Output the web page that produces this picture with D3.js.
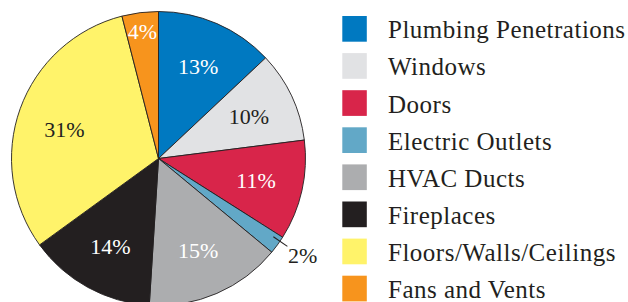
<!DOCTYPE html>
<html>
<head>
<meta charset="utf-8">
<script src="https://cdn.jsdelivr.net/npm/d3@7"></script>
<style>
  html, body { margin: 0; padding: 0; background: #fff; }
  svg { display: block; }
  svg text { font-family: "Liberation Serif", "Times New Roman", serif; }
</style>
</head>
<body>
<svg id="chart" width="628" height="302"></svg>
<script>
// Data
const categories = ["Plumbing Penetrations", "Windows", "Doors", "Electric Outlets",
                    "HVAC Ducts", "Fireplaces", "Floors/Walls/Ceilings", "Fans and Vents"];
const values = [13, 10, 11, 2, 15, 14, 31, 4];
const colors = ["#0079c1", "#e1e2e4", "#d8254a", "#62a8c7", "#acadaf", "#231f20", "#fff36a", "#f7941d"];
const labelColors = ["#ffffff", "#231f20", "#ffffff", "#231f20", "#ffffff", "#ffffff", "#231f20", "#ffffff"];

const svg = d3.select("#chart");
const cx = 158.5, cy = 158.5, R = 147;

const data = categories.map((c, i) => ({ name: c, value: values[i], color: colors[i], lc: labelColors[i] }));

const pie = d3.pie().sort(null).value(d => d.value).startAngle(0).endAngle(2 * Math.PI);
const arcs = pie(data);
const arc = d3.arc().innerRadius(0).outerRadius(R);

const g = svg.append("g").attr("transform", `translate(${cx},${cy})`);

g.selectAll("path.slice")
  .data(arcs)
  .join("path")
  .attr("class", "slice")
  .attr("d", arc)
  .attr("fill", d => d.data.color)
  .attr("stroke", "#231f20")
  .attr("stroke-width", 0.9)
  .attr("stroke-linejoin", "round");

function polar(r, a) { return [r * Math.sin(a), -r * Math.cos(a)]; }

arcs.forEach(d => {
  const mid = (d.startAngle + d.endAngle) / 2;
  let r = 100;
  if (d.data.value < 3) r = 172;
  else if (d.data.value < 5) r = 128;
  const [x, y] = polar(r, mid);
  if (d.data.value < 3) {
    const [x1, y1] = polar(139, mid - 0.03);
    const [x2, y2] = polar(156, mid - 0.03);
    g.append("line")
      .attr("x1", x1).attr("y1", y1).attr("x2", x2).attr("y2", y2)
      .attr("stroke", "#231f20").attr("stroke-width", 1.1);
  }
  g.append("text")
    .attr("x", d.data.value < 3 ? x + 5 : x)
    .attr("y", d.data.value < 3 ? y - 4 : (d.data.value > 30 ? y + 5 : y))
    .attr("dy", "0.35em")
    .attr("text-anchor", "middle")
    .style("font-size", "22px")
    .attr("fill", d.data.lc)
    .text(d.data.value + "%");
});

// Legend
const legend = svg.append("g");
const rowH = 37.1;
data.forEach((d, i) => {
  legend.append("rect")
    .attr("x", 342.3).attr("y", 16 + i * rowH)
    .attr("width", 24.5).attr("height", 25.7)
    .attr("fill", d.color);
  legend.append("text")
    .attr("x", 388).attr("y", 38.3 + i * rowH)
    .style("font-size", "25px")
    .style("letter-spacing", "0.5px")
    .attr("fill", "#231f20")
    .text(d.name);
});
</script>
</body>
</html>
